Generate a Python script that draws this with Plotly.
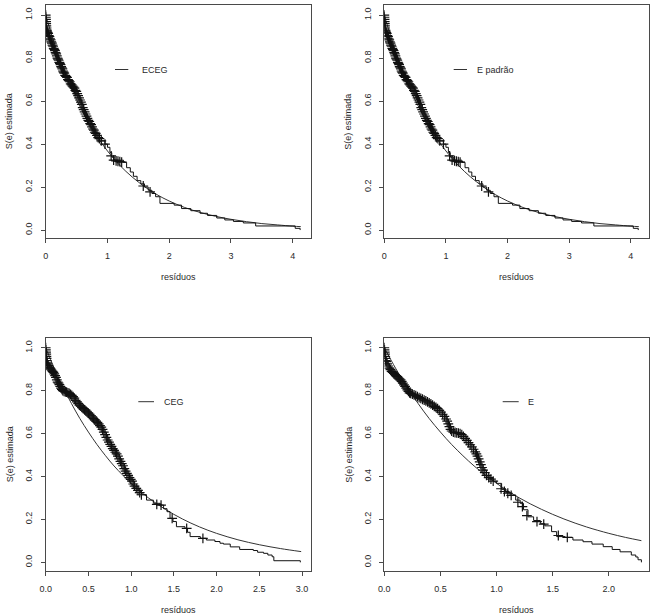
import plotly.graph_objects as go

W, H = 654, 616

# ---------------- data ----------------
panel_names = ["ECEG", "E padrão", "CEG", "E"]

# Kaplan-Meier step points (residual, S)
km_eceg = [(0, 1.0), (0.005, 0.975), (0.01, 0.95), (0.017, 0.93), (0.03, 0.92), (0.05, 0.905),
           (0.07, 0.89), (0.09, 0.875), (0.11, 0.86), (0.13, 0.845), (0.15, 0.835), (0.17, 0.82),
           (0.19, 0.80), (0.21, 0.79), (0.23, 0.775), (0.25, 0.76), (0.27, 0.75), (0.29, 0.735),
           (0.315, 0.72), (0.345, 0.71), (0.375, 0.695), (0.405, 0.68), (0.435, 0.67), (0.465, 0.66),
           (0.495, 0.645), (0.525, 0.625), (0.555, 0.605), (0.585, 0.585), (0.615, 0.56), (0.645, 0.54),
           (0.675, 0.52), (0.705, 0.505), (0.735, 0.49), (0.765, 0.47), (0.795, 0.455), (0.83, 0.44),
           (0.87, 0.425), (0.90, 0.415), (0.96, 0.40), (1.00, 0.385), (1.04, 0.36), (1.07, 0.34),
           (1.12, 0.325), (1.26, 0.315), (1.31, 0.29), (1.37, 0.27), (1.42, 0.25), (1.48, 0.23),
           (1.54, 0.215), (1.60, 0.20), (1.66, 0.185), (1.72, 0.17), (1.78, 0.155), (1.85, 0.124),
           (2.08, 0.116), (2.20, 0.10), (2.35, 0.09), (2.50, 0.078), (2.62, 0.068), (2.77, 0.056),
           (2.90, 0.047), (3.04, 0.040), (3.20, 0.033), (3.40, 0.019), (4.04, 0.008), (4.12, 0.0)]
# censoring marks (residual, S)
cens_eceg = [(0.0, 1.0), (0.002, 0.99), (0.004, 0.98), (0.006, 0.97), (0.008, 0.96), (0.01, 0.95),
             (0.013, 0.94), (0.017, 0.93), (0.022, 0.925), (0.03, 0.92), (0.04, 0.915), (0.05, 0.905),
             (0.06, 0.90), (0.07, 0.89), (0.08, 0.885), (0.09, 0.875), (0.10, 0.87), (0.11, 0.86),
             (0.12, 0.855), (0.13, 0.845), (0.14, 0.84), (0.15, 0.835), (0.16, 0.825), (0.17, 0.82),
             (0.18, 0.81), (0.19, 0.80), (0.20, 0.795), (0.21, 0.79), (0.22, 0.78), (0.23, 0.775),
             (0.24, 0.77), (0.25, 0.76), (0.26, 0.755), (0.27, 0.75), (0.28, 0.74), (0.29, 0.735),
             (0.30, 0.73), (0.315, 0.72), (0.33, 0.715), (0.345, 0.71), (0.36, 0.70), (0.375, 0.695),
             (0.39, 0.69), (0.405, 0.68), (0.42, 0.675), (0.435, 0.67), (0.45, 0.665), (0.465, 0.66),
             (0.48, 0.65), (0.495, 0.645), (0.51, 0.635), (0.525, 0.625), (0.54, 0.615), (0.555, 0.605),
             (0.57, 0.595), (0.585, 0.585), (0.60, 0.57), (0.615, 0.56), (0.63, 0.55), (0.645, 0.54),
             (0.66, 0.53), (0.675, 0.52), (0.69, 0.51), (0.705, 0.505), (0.72, 0.495), (0.735, 0.49),
             (0.75, 0.48), (0.765, 0.47), (0.78, 0.465), (0.795, 0.455), (0.81, 0.45), (0.83, 0.44),
             (0.85, 0.43), (0.87, 0.425), (0.90, 0.415), (0.96, 0.40), (1.06, 0.345), (1.10, 0.325),
             (1.14, 0.322), (1.17, 0.32), (1.20, 0.318), (1.23, 0.316), (1.58, 0.205), (1.69, 0.178)]
# fitted survival curve (residual, S)
fit_eceg = [(0, 1.0), (0.1, 0.905), (0.2, 0.819), (0.3, 0.741), (0.4, 0.670), (0.5, 0.607),
            (0.6, 0.549), (0.7, 0.497), (0.8, 0.449), (0.9, 0.407), (1.0, 0.368), (1.2, 0.301),
            (1.4, 0.247), (1.6, 0.202), (1.8, 0.165), (2.0, 0.135), (2.25, 0.105), (2.5, 0.082),
            (2.75, 0.064), (3.0, 0.050), (3.25, 0.039), (3.5, 0.030), (3.75, 0.024), (4.0, 0.018),
            (4.13, 0.016)]

km_epad = list(km_eceg)
cens_epad = list(cens_eceg)
fit_epad = list(fit_eceg)

km_ceg = [(0, 1.0), (0.005, 0.98), (0.01, 0.96), (0.015, 0.94), (0.02, 0.925), (0.04, 0.91),
          (0.06, 0.90), (0.08, 0.89), (0.10, 0.878), (0.12, 0.862), (0.14, 0.84), (0.16, 0.828),
          (0.18, 0.812), (0.20, 0.80), (0.245, 0.793), (0.29, 0.782), (0.32, 0.772), (0.35, 0.755),
          (0.38, 0.74), (0.41, 0.728), (0.44, 0.716), (0.47, 0.705), (0.50, 0.695), (0.53, 0.683),
          (0.56, 0.67), (0.59, 0.658), (0.62, 0.645), (0.65, 0.63), (0.68, 0.607), (0.71, 0.582),
          (0.74, 0.56), (0.77, 0.54), (0.80, 0.522), (0.83, 0.505), (0.86, 0.482), (0.89, 0.46),
          (0.92, 0.437), (0.95, 0.415), (0.98, 0.395), (1.01, 0.378), (1.04, 0.355), (1.08, 0.335),
          (1.12, 0.315), (1.18, 0.29), (1.26, 0.275), (1.34, 0.267), (1.38, 0.25), (1.42, 0.236),
          (1.455, 0.205), (1.49, 0.19), (1.53, 0.166), (1.63, 0.158), (1.66, 0.14), (1.69, 0.12),
          (1.81, 0.112), (1.88, 0.104), (1.98, 0.097), (2.04, 0.089), (2.08, 0.085), (2.16, 0.072),
          (2.27, 0.06), (2.43, 0.055), (2.48, 0.047), (2.55, 0.042), (2.60, 0.034), (2.65, 0.026),
          (2.67, 0.0075), (2.98, 0.0)]
cens_ceg = [(0, 1.0), (0.002, 0.99), (0.004, 0.98), (0.006, 0.97), (0.008, 0.96), (0.010, 0.95),
            (0.012, 0.94), (0.015, 0.93), (0.02, 0.925), (0.03, 0.918), (0.04, 0.91), (0.05, 0.905),
            (0.06, 0.90), (0.07, 0.895), (0.08, 0.89), (0.09, 0.885), (0.10, 0.878), (0.11, 0.87),
            (0.12, 0.862), (0.13, 0.85), (0.14, 0.84), (0.15, 0.835), (0.16, 0.828), (0.17, 0.82),
            (0.18, 0.812), (0.19, 0.806), (0.20, 0.80), (0.215, 0.797), (0.23, 0.795), (0.245, 0.793),
            (0.26, 0.79), (0.275, 0.787), (0.29, 0.782), (0.305, 0.778), (0.32, 0.772), (0.335, 0.765),
            (0.35, 0.755), (0.365, 0.748), (0.38, 0.74), (0.395, 0.733), (0.41, 0.728), (0.425, 0.722),
            (0.44, 0.716), (0.455, 0.71), (0.47, 0.705), (0.485, 0.70), (0.50, 0.695), (0.515, 0.69),
            (0.53, 0.683), (0.545, 0.677), (0.56, 0.67), (0.575, 0.664), (0.59, 0.658), (0.605, 0.652),
            (0.62, 0.645), (0.635, 0.637), (0.65, 0.63), (0.665, 0.62), (0.68, 0.607), (0.695, 0.595),
            (0.71, 0.582), (0.725, 0.57), (0.74, 0.56), (0.755, 0.55), (0.77, 0.54), (0.785, 0.53),
            (0.80, 0.522), (0.815, 0.513), (0.83, 0.505), (0.845, 0.495), (0.86, 0.482), (0.875, 0.47),
            (0.89, 0.46), (0.905, 0.45), (0.92, 0.437), (0.935, 0.425), (0.95, 0.415), (0.965, 0.405),
            (0.98, 0.395), (0.995, 0.387), (1.01, 0.378), (1.025, 0.365), (1.04, 0.355), (1.06, 0.345),
            (1.08, 0.335), (1.10, 0.325), (1.12, 0.315), (1.30, 0.27), (1.35, 0.267), (1.48, 0.205),
            (1.65, 0.158), (1.84, 0.112)]
fit_ceg = [(0, 1.0), (0.1, 0.905), (0.2, 0.819), (0.3, 0.741), (0.4, 0.670), (0.5, 0.607),
           (0.6, 0.549), (0.7, 0.497), (0.8, 0.449), (0.9, 0.407), (1.0, 0.368), (1.2, 0.301),
           (1.4, 0.247), (1.6, 0.202), (1.8, 0.165), (2.0, 0.135), (2.25, 0.105), (2.5, 0.082),
           (2.75, 0.064), (2.99, 0.050)]

km_e = [(0, 1.0), (0.005, 0.985), (0.01, 0.95), (0.017, 0.935), (0.025, 0.925), (0.045, 0.905),
        (0.065, 0.89), (0.085, 0.88), (0.105, 0.87), (0.125, 0.86), (0.145, 0.85), (0.165, 0.835),
        (0.185, 0.82), (0.205, 0.804), (0.225, 0.79), (0.25, 0.784), (0.28, 0.777), (0.31, 0.768),
        (0.34, 0.76), (0.37, 0.752), (0.40, 0.743), (0.43, 0.733), (0.46, 0.722), (0.49, 0.708),
        (0.52, 0.69), (0.55, 0.668), (0.57, 0.645), (0.59, 0.62), (0.60, 0.612), (0.63, 0.605),
        (0.675, 0.60), (0.705, 0.587), (0.735, 0.568), (0.765, 0.548), (0.795, 0.527), (0.82, 0.505),
        (0.84, 0.482), (0.86, 0.455), (0.88, 0.43), (0.91, 0.405), (0.94, 0.39), (0.97, 0.378),
        (1.00, 0.368), (1.045, 0.34), (1.08, 0.325), (1.12, 0.313), (1.17, 0.29), (1.21, 0.275),
        (1.24, 0.245), (1.28, 0.212), (1.33, 0.195), (1.39, 0.18), (1.43, 0.17), (1.49, 0.143),
        (1.535, 0.12), (1.61, 0.116), (1.68, 0.104), (1.77, 0.096), (1.85, 0.085), (1.95, 0.073),
        (2.03, 0.06), (2.10, 0.049), (2.20, 0.034), (2.24, 0.025), (2.26, 0.012), (2.29, 0.0)]
cens_e = [(0, 1.0), (0.002, 0.99), (0.004, 0.98), (0.006, 0.97), (0.008, 0.96), (0.010, 0.95),
          (0.013, 0.94), (0.017, 0.935), (0.025, 0.925), (0.035, 0.915), (0.045, 0.905), (0.055, 0.898),
          (0.065, 0.89), (0.075, 0.885), (0.085, 0.88), (0.095, 0.875), (0.105, 0.87), (0.115, 0.865),
          (0.125, 0.86), (0.135, 0.855), (0.145, 0.85), (0.155, 0.843), (0.165, 0.835), (0.175, 0.827),
          (0.185, 0.82), (0.195, 0.812), (0.205, 0.804), (0.215, 0.797), (0.225, 0.79), (0.235, 0.787),
          (0.25, 0.784), (0.265, 0.78), (0.28, 0.777), (0.295, 0.772), (0.31, 0.768), (0.325, 0.764),
          (0.34, 0.76), (0.355, 0.756), (0.37, 0.752), (0.385, 0.748), (0.40, 0.743), (0.415, 0.738),
          (0.43, 0.733), (0.445, 0.727), (0.46, 0.722), (0.475, 0.716), (0.49, 0.708), (0.505, 0.70),
          (0.52, 0.69), (0.535, 0.68), (0.55, 0.668), (0.56, 0.658), (0.57, 0.645), (0.58, 0.632),
          (0.59, 0.62), (0.60, 0.612), (0.615, 0.607), (0.63, 0.605), (0.645, 0.603), (0.66, 0.602),
          (0.675, 0.60), (0.69, 0.595), (0.705, 0.587), (0.72, 0.578), (0.735, 0.568), (0.75, 0.558),
          (0.765, 0.548), (0.78, 0.538), (0.795, 0.527), (0.81, 0.515), (0.82, 0.505), (0.83, 0.495),
          (0.84, 0.482), (0.85, 0.468), (0.86, 0.455), (0.87, 0.442), (0.88, 0.43), (0.895, 0.418),
          (0.91, 0.405), (0.93, 0.395), (0.95, 0.388), (0.97, 0.378), (1.04, 0.343), (1.07, 0.33),
          (1.10, 0.322), (1.13, 0.312), (1.19, 0.28), (1.23, 0.26), (1.27, 0.218), (1.36, 0.19),
          (1.42, 0.178), (1.55, 0.125), (1.63, 0.116)]
fit_e = [(0, 1.0), (0.1, 0.905), (0.2, 0.819), (0.3, 0.741), (0.4, 0.670), (0.5, 0.607),
         (0.6, 0.549), (0.7, 0.497), (0.8, 0.449), (0.9, 0.407), (1.0, 0.368), (1.2, 0.301),
         (1.4, 0.247), (1.6, 0.202), (1.8, 0.165), (2.0, 0.135), (2.15, 0.116), (2.29, 0.101)]

x_ticks_top = [0, 1, 2, 3, 4]
x_ticks_ceg = [0.0, 0.5, 1.0, 1.5, 2.0, 2.5, 3.0]
x_ticks_e = [0.0, 0.5, 1.0, 1.5, 2.0]
y_ticks = [0.0, 0.2, 0.4, 0.6, 0.8, 1.0]

# ---------------- layout (pixel geometry) ----------------
boxes = [  # left, right, top, bottom in px
    (45.7, 311.0, 5.0, 238.0),
    (384.3, 648.7, 5.0, 238.0),
    (45.7, 311.0, 338.3, 570.7),
    (384.3, 648.7, 338.3, 570.7),
]
x_ranges = [[0, 4.296], [0, 4.29], [0, 3.105], [0, 2.355]]
y_ranges = [[-0.037, 1.047], [-0.037, 1.047], [-0.039, 1.044], [-0.039, 1.044]]
x_tickvals = [x_ticks_top, x_ticks_top, x_ticks_ceg, x_ticks_e]
x_fmt = ["{:.0f}", "{:.0f}", "{:.1f}", "{:.1f}"]
legend_px = [  # line x0, x1, text x, y
    (115.0, 128.3, 140.0, 69.5),
    (453.7, 467.0, 475.3, 69.5),
    (138.3, 154.0, 162.3, 401.7),
    (502.7, 518.7, 526.3, 401.7),
]

FONT = "Liberation Sans, Arial, sans-serif"
BOX = "#4a4a4a"
TXT = "#2a2a2a"


def px2paper(x, y):
    return x / W, (H - y) / H


kms = [km_eceg, km_epad, km_ceg, km_e]
cens = [cens_eceg, cens_epad, cens_ceg, cens_e]
fits = [fit_eceg, fit_epad, fit_ceg, fit_e]

fig = go.Figure()
annotations = []
shapes = []

for i in range(4):
    n = i + 1
    xa = "x" if n == 1 else f"x{n}"
    ya = "y" if n == 1 else f"y{n}"

    fig.add_trace(go.Scatter(x=[p[0] for p in fits[i]], y=[p[1] for p in fits[i]], mode="lines",
                             line=dict(color="#333333", width=1, shape="spline"),
                             xaxis=xa, yaxis=ya, showlegend=False, hoverinfo="skip"))
    fig.add_trace(go.Scatter(x=[p[0] for p in kms[i]], y=[p[1] for p in kms[i]], mode="lines",
                             line=dict(color="#111111", width=1, shape="hv"),
                             xaxis=xa, yaxis=ya, showlegend=False, hoverinfo="skip"))
    fig.add_trace(go.Scatter(x=[p[0] for p in cens[i]], y=[p[1] for p in cens[i]], mode="markers",
                             marker=dict(symbol="cross-thin", size=7, line=dict(color="#111111", width=1.2)),
                             xaxis=xa, yaxis=ya, showlegend=False, hoverinfo="skip"))

    l, r, t, b = boxes[i]
    x0, y1 = px2paper(l, t)
    x1, y0 = px2paper(r, b)
    xkey = "xaxis" if n == 1 else f"xaxis{n}"
    ykey = "yaxis" if n == 1 else f"yaxis{n}"
    fig.update_layout({
        xkey: dict(domain=[x0, x1], range=x_ranges[i], anchor=ya, automargin=False,
                   tickvals=x_tickvals[i], ticktext=[x_fmt[i].format(v) for v in x_tickvals[i]],
                   ticks="outside", ticklen=4, tickcolor=BOX, tickwidth=1,
                   showline=True, mirror=True, linecolor=BOX, linewidth=1,
                   showgrid=False, zeroline=False, ticklabelstandoff=5,
                   tickfont=dict(family=FONT, size=9, color=TXT)),
        ykey: dict(domain=[y0, y1], range=y_ranges[i], anchor=xa, automargin=False,
                   tickvals=y_ticks, ticktext=["{:.1f}".format(v) for v in y_ticks],
                   tickangle=-90,
                   ticks="outside", ticklen=4, tickcolor=BOX, tickwidth=1,
                   showline=True, mirror=True, linecolor=BOX, linewidth=1,
                   showgrid=False, zeroline=False, ticklabelstandoff=5,
                   tickfont=dict(family=FONT, size=9, color=TXT)),
    })

    # axis titles
    cx = (l + r) / 2
    ax_, ay_ = px2paper(cx, b + 39)
    annotations.append(dict(x=ax_, y=ay_, xref="paper", yref="paper", text="resíduos", showarrow=False,
                            xanchor="center", yanchor="middle", font=dict(family=FONT, size=9, color=TXT)))
    cy = (t + b) / 2
    bx_, by_ = px2paper(l - 36, cy)
    annotations.append(dict(x=bx_, y=by_, xref="paper", yref="paper", text="S(e) estimada", showarrow=False,
                            textangle=-90, xanchor="center", yanchor="middle",
                            font=dict(family=FONT, size=9, color=TXT)))

    # legend key
    lx0, lx1, tx, ly = legend_px[i]
    p0 = px2paper(lx0, ly)
    p1 = px2paper(lx1, ly)
    shapes.append(dict(type="line", xref="paper", yref="paper", x0=p0[0], x1=p1[0], y0=p0[1], y1=p1[1],
                       line=dict(color="#333333", width=1)))
    tpx = px2paper(tx, ly)
    annotations.append(dict(x=tpx[0], y=tpx[1], xref="paper", yref="paper", text=panel_names[i],
                            showarrow=False, xanchor="left", yanchor="middle",
                            font=dict(family=FONT, size=9, color=TXT)))

fig.update_layout(template="none", width=W, height=H, margin=dict(l=0, r=0, t=0, b=0, pad=0),
                  paper_bgcolor="white", plot_bgcolor="white",
                  annotations=annotations, shapes=shapes, showlegend=False)

fig.write_html("out.html")
